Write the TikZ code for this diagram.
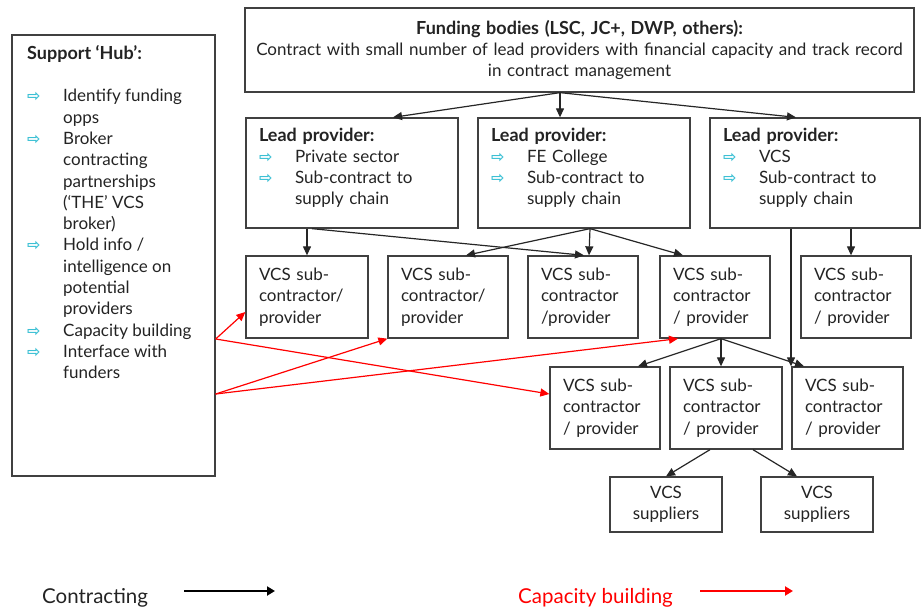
\documentclass[tikz,border=0pt]{standalone}
\usepackage{fontspec}
\setmainfont{Lato}
\newfontfamily\dejavu{DejaVu Sans}
\usetikzlibrary{arrows.meta}
\definecolor{bulcyan}{RGB}{60,192,212}
\definecolor{capred}{RGB}{255,0,0}
\definecolor{txt}{RGB}{35,35,35}
\hyphenpenalty=10000
\exhyphenpenalty=10000
\newcommand\bul{\textcolor{bulcyan}{\dejavu\bfseries\fontsize{16}{16}\selectfont ⇨}}
\newcommand\itm[1]{\makebox[36pt][l]{\bul}#1}
\newcommand\cont{\hspace*{36pt}}
\newcommand\hd[1]{{\bfseries\fontsize{18}{21.3}\selectfont #1}}
\newcommand\lift{\\[-8pt]\mbox{}}
\begin{document}
\begin{tikzpicture}[x=1pt,y=-1pt,
  box/.style={draw=black!75, line width=1.3pt, inner xsep=13pt, inner ysep=0pt,
    align=left, text=txt, font=\fontsize{17}{21.3}\selectfont},
  blk/.style={draw=black!85, line width=1.2pt, -{Triangle[length=9pt,width=8pt]}},
  redarr/.style={draw=capred, line width=1.2pt, -{Triangle[length=9pt,width=8pt]}},
  legarr/.style={line width=2pt, -{Triangle[length=8pt,width=9pt]}},
  legtext/.style={font=\fontsize{20.5}{20.5}\selectfont, anchor=base west, inner sep=0pt}
]
\useasboundingbox (0,0) rectangle (922,607);

% Funding
\node[box, align=center, inner xsep=4pt, text width=661pt, minimum height=84pt] (funding) at (579.5,50)
  {\hd{Funding bodies (LSC, JC+, DWP, others):}\\
   Contract with small number of lead providers with financial capacity and track record\\
   in contract management};

% Hub
\node[box, minimum width=203pt, minimum height=441pt] (hub) at (113.5,255.5) {};
\node[anchor=north west, inner sep=0pt, align=left, text=txt, font=\fontsize{17}{21.3}\selectfont] (hubtxt) at (27,45)
  {\hd{Support `Hub':}\\[21.3pt]
   \itm{Identify funding}\\ \cont opps\\
   \itm{Broker}\\ \cont contracting\\ \cont partnerships\\ \cont (`THE' VCS\\ \cont broker)\\
   \itm{Hold info /}\\ \cont intelligence on\\ \cont potential\\ \cont providers\\
   \itm{Capacity building}\\
   \itm{Interface with}\\ \cont funders};

% Lead providers
\node[box, text width=186pt, minimum height=110pt] (lp1) at (352,173)
  {\hd{Lead provider:}\\ \itm{Private sector}\\ \itm{Sub-contract to}\\ \cont supply chain\lift};
\node[box, text width=186pt, minimum height=110pt] (lp2) at (584,173)
  {\hd{Lead provider:}\\ \itm{FE College}\\ \itm{Sub-contract to}\\ \cont supply chain\lift};
\node[box, text width=184pt, minimum height=110pt] (lp3) at (815,173)
  {\hd{Lead provider:}\\ \itm{VCS}\\ \itm{Sub-contract to}\\ \cont supply chain\lift};

% VCS row 1
\node[box, text width=96pt, minimum height=82pt] (v1) at (307,297) {VCS sub-\\contractor/\\provider};
\node[box, text width=94pt, minimum height=82pt] (v2) at (448,297) {VCS sub-\\contractor/\\provider};
\node[box, text width=84pt, minimum height=82pt] (v3) at (583,297) {VCS sub-\\contractor\\/provider};
\node[box, text width=84pt, minimum height=82pt] (v4) at (715,297) {VCS sub-\\contractor\\/ provider};
\node[box, text width=84pt, minimum height=82pt] (v5) at (856,297) {VCS sub-\\contractor\\/ provider};

% VCS row 2
\node[box, text width=84pt, minimum height=82pt] (v6) at (605,408) {VCS sub-\\contractor\\/ provider};
\node[box, text width=86pt, minimum height=82pt] (v7) at (726,408) {VCS sub-\\contractor\\/ provider};
\node[box, text width=85pt, minimum height=82pt] (v8) at (847.5,408) {VCS sub-\\contractor\\/ provider};

% Suppliers
\node[box, align=center, text width=86pt, minimum height=55pt] (s1) at (666,504.5) {VCS\\suppliers};
\node[box, align=center, text width=86pt, minimum height=55pt] (s2) at (817,504.5) {VCS\\suppliers};

% Contracting arrows
\draw[blk] ([xshift=-19.5pt]funding.south) -- ([xshift=41pt]lp1.north);
\draw[blk] ([xshift=-19.5pt]funding.south) -- ([xshift=-24pt]lp2.north);
\draw[blk] ([xshift=-19.5pt]funding.south) -- ([xshift=-19pt]lp3.north);

\draw[blk] (lp1.south -| v1.north) -- (v1.north);
\draw[blk] ([xshift=-40pt]lp1.south) -- ([xshift=1pt]v3.north);
\draw[blk] ([xshift=6pt]lp2.south) -- ([xshift=18pt]v2.north);
\draw[blk] ([xshift=6pt]lp2.south) -- ([xshift=6pt]v3.north);
\draw[blk] ([xshift=6pt]lp2.south) -- ([xshift=-32pt]v4.north);
\draw[blk] ([xshift=36pt]lp3.south) -- ([xshift=-5pt]v5.north);
\draw[blk] ([xshift=-24pt]lp3.south) -- ([xshift=-56.5pt]v8.north);

\draw[blk] ([xshift=6pt]v4.south) -- ([xshift=33pt]v6.north);
\draw[blk] ([xshift=6pt]v4.south) -- ([xshift=-5pt]v7.north);
\draw[blk] ([xshift=6pt]v4.south) -- ([xshift=-43.5pt]v8.north);

\draw[blk] ([xshift=-16pt]v7.south) -- (s1.north);
\draw[blk] ([xshift=27pt]v7.south) -- ([xshift=-20pt]s2.north);

% Capacity building arrows
\draw[redarr] ([yshift=-83.5pt]hub.east) -- ([yshift=-15pt]v1.west);
\draw[redarr] ([yshift=-83.5pt]hub.east) -- ([yshift=14pt]v6.west);
\draw[redarr] ([yshift=-138.5pt]hub.east) -- (v2.south west);
\draw[redarr] ([yshift=-138.5pt]hub.east) -- ([xshift=-37pt]v4.south);

% Legend
\node[legtext, text=txt] (legc) at (42,603) {Contracting};
\coordinate (lc1) at (184,591);
\coordinate (lc2) at (275,591);
\draw[legarr, draw=black] (lc1) -- (lc2);
\node[legtext, text=capred] (legr) at (518,603) {Capacity building};
\coordinate (lr1) at (700,591);
\coordinate (lr2) at (793,591);
\draw[legarr, draw=capred] (lr1) -- (lr2);
\end{tikzpicture}
\end{document}
